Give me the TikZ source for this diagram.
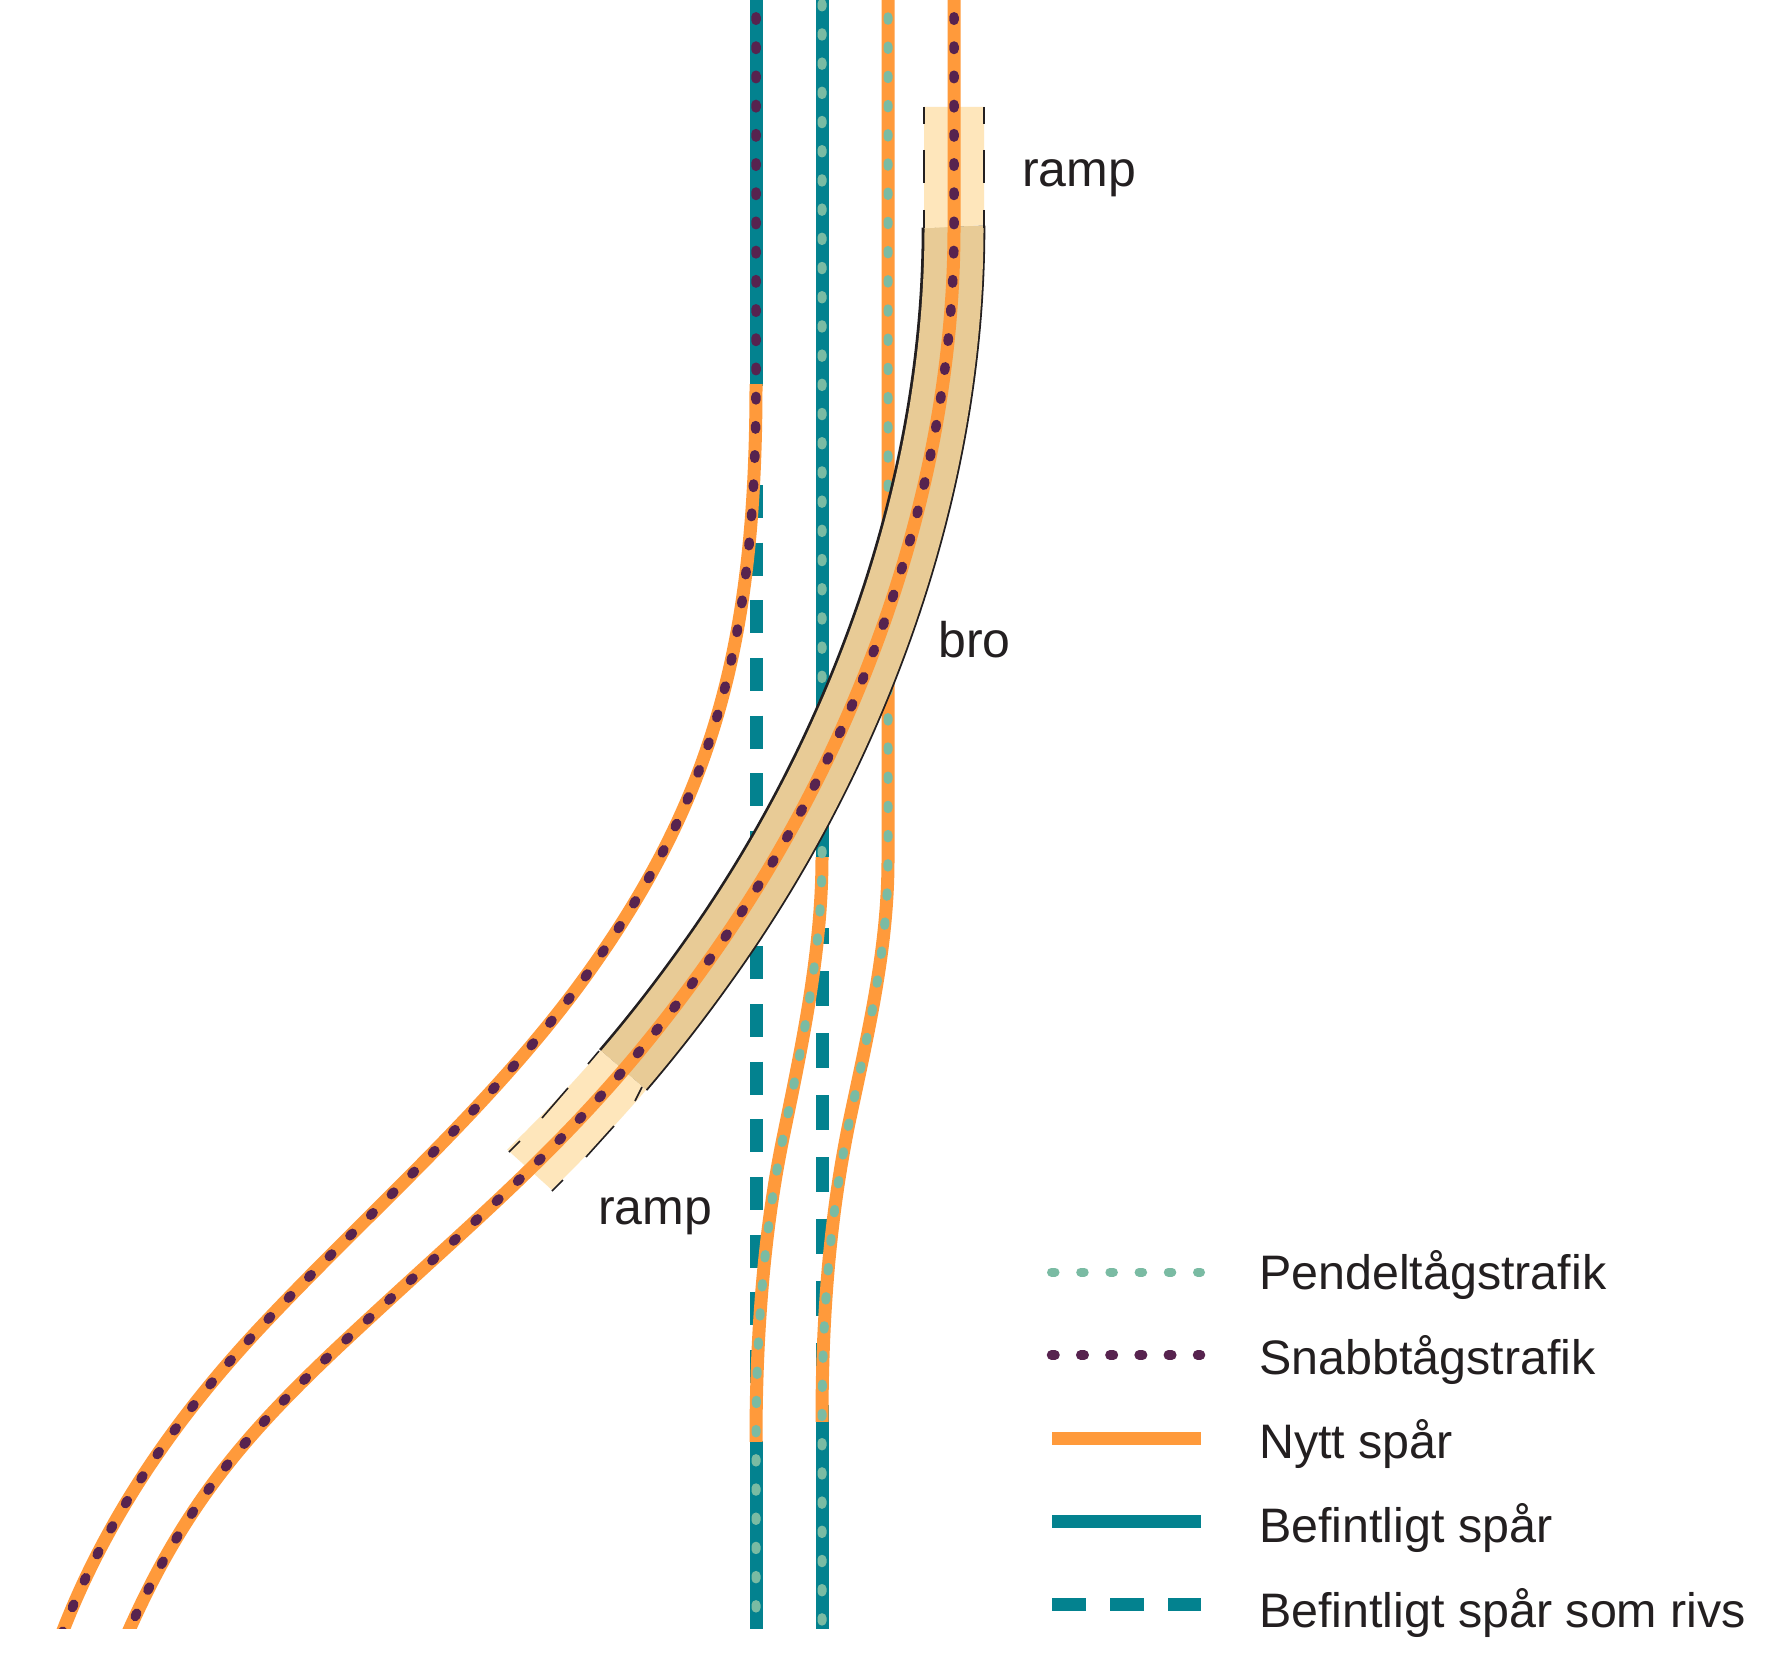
\documentclass[tikz,border=0pt]{standalone}
\usepackage{fontspec}
\setmainfont{Liberation Sans}
\definecolor{cOrange}{HTML}{FF9A3B}
\definecolor{cTeal}{HTML}{03828F}
\definecolor{cTan}{HTML}{E8CB96}
\definecolor{cRamp}{HTML}{FEE6BB}
\definecolor{cGreen}{HTML}{7ABBA3}
\definecolor{cPurple}{HTML}{57234F}
\definecolor{cInk}{HTML}{231F20}
\def\Lpath{(756,0) -- (756,385) .. controls (756,640) and (714,794) .. (593,966) .. controls (498,1101) and (370,1210) .. (258,1330) .. controls (176,1418) and (108,1516) .. (64,1628) -- (50,1663)}
\def\Cpath{(954,0) -- (954,228) .. controls (954,488) and (858,752) .. (707,963) .. controls (591,1126) and (496,1200) .. (350,1336) .. controls (248,1431) and (187,1501) .. (130,1628) -- (115,1662)}
\def\Mpath{(822,0) -- (822,857) .. controls (822,952) and (802,1045) .. (783,1138) .. controls (763,1236) and (756,1341) .. (756,1441) -- (756,1640)}
\def\Rpath{(888,0) -- (888,860) .. controls (888,950) and (867.5,1035) .. (849,1123) .. controls (829,1221) and (822,1321) .. (822,1421) -- (822,1640)}
\tikzset{
  trackteal/.style={draw=cTeal,line width=13pt},
  trackorange/.style={draw=cOrange,line width=13pt},
  dotgreen/.style={draw=cGreen,line width=9pt,line cap=round,dash pattern=on 3.5pt off 25.7pt},
  dotpurple/.style={draw=cPurple,line width=9.5pt,line cap=round,dash pattern=on 3.5pt off 25.7pt},
  rampedge/.style={draw=cInk,line width=1.6pt},
  rampedgeheavy/.style={draw=cInk,line width=2pt},
  lab/.style={anchor=base west,inner sep=0pt,text=cInk,font=\fontsize{50}{60}\selectfont},
  leglab/.style={anchor=base west,inner sep=0pt,text=cInk,font=\fontsize{48.4}{58}\selectfont}
}
\begin{document}
\begin{tikzpicture}[x=1pt,y=-1pt]
\useasboundingbox (0,0) rectangle (1783,1669);
\fill[white] (0,0) rectangle (1783,1669);
\begin{scope}
\clip (0,0) rectangle (1783,1628);
% existing track to be removed
\draw[trackteal,dash pattern=on 33pt off 24.67pt] (756,485) -- (756,1383);
\draw[trackteal] (822,928) -- (822,944);
\draw[trackteal,dash pattern=on 35pt off 27pt] (822,971) -- (822,1421);
% existing track
\draw[trackteal] (756,0) -- (756,386);
\draw[trackteal] (822,0) -- (822,857);
\draw[trackteal] (756,1441) -- (756,1640);
\draw[trackteal] (822,1421) -- (822,1640);
% new track
\begin{scope}
\clip (0,385) rectangle (1783,1640);
\draw[trackorange] \Lpath;
\end{scope}
\begin{scope}
\clip (0,857) rectangle (1783,1441);
\draw[trackorange] \Mpath;
\end{scope}
\begin{scope}
\clip (0,0) rectangle (1783,1421);
\draw[trackorange] \Rpath;
\end{scope}
% traffic dots
\draw[dotpurple,dash phase=12.4pt] \Lpath;
\draw[dotgreen,dash phase=25.7pt] \Mpath;
\draw[dotgreen,dash phase=12.4pt] \Rpath;
% bridge
\begin{scope}
\clip (900,228.5) -- (1000,225) -- (1050,900) -- (680,1119) -- (570,1024) -- cycle;
\begin{scope}[xshift=-0.5pt]
\draw[draw=cInk,line width=63.6pt] \Cpath;
\end{scope}
\draw[draw=cTan,line width=59pt] \Cpath;
\end{scope}
% ramps
\fill[cRamp] (924,107) -- (984,107) -- (984,225.2) -- (924,228.3) -- cycle;
\begin{scope}
\clip (570,1024) -- (680,1119) -- (583,1218) -- (480,1125) -- cycle;
\draw[draw=cRamp,line width=60pt] \Cpath;
\end{scope}
% centre line on top
\draw[trackorange] \Cpath;
\draw[dotpurple,dash phase=12.4pt] \Cpath;
\end{scope}
% ramp edges
\foreach \ya/\yb in {107/124,150/183,210/228}{
  \draw[rampedgeheavy] (924,\ya) -- (924,\yb);
  \draw[rampedgeheavy] (984,\ya) -- (984,\yb);
}
\draw[rampedge] (599,1051) -- (588,1064);
\draw[rampedge] (568,1088) -- (542,1118);
\draw[rampedge] (520,1141) -- (509,1152);
\draw[rampedge] (642,1087) -- (635,1101);
\draw[rampedge] (614,1126) -- (586,1157);
\draw[rampedge] (563,1180) -- (552,1191);
% labels
\node[lab] (rampTop) at (1022,187) {ramp};
\node[lab] (rampLow) at (598,1224) {ramp};
\node[lab] (broLabel) at (938,657) {bro};
% legend
\draw[dotgreen] (1051.5,1272) -- (1200.5,1272);
\draw[dotpurple] (1051.5,1355) -- (1200.5,1355);
\draw[trackorange] (1052,1438) -- (1201,1438);
\draw[trackteal] (1052,1521) -- (1201,1521);
\draw[trackteal,dash pattern=on 34pt off 24pt] (1052,1604) -- (1201,1604);
\node[leglab] (legA) at (1259,1289) {Pendeltågstrafik};
\node[leglab] (legB) at (1259,1374) {Snabbtågstrafik};
\node[leglab] (legC) at (1259,1458) {Nytt spår};
\node[leglab] (legD) at (1259,1542) {Befintligt spår};
\node[leglab] (legE) at (1259,1627) {Befintligt spår som rivs};
\end{tikzpicture}
\end{document}
